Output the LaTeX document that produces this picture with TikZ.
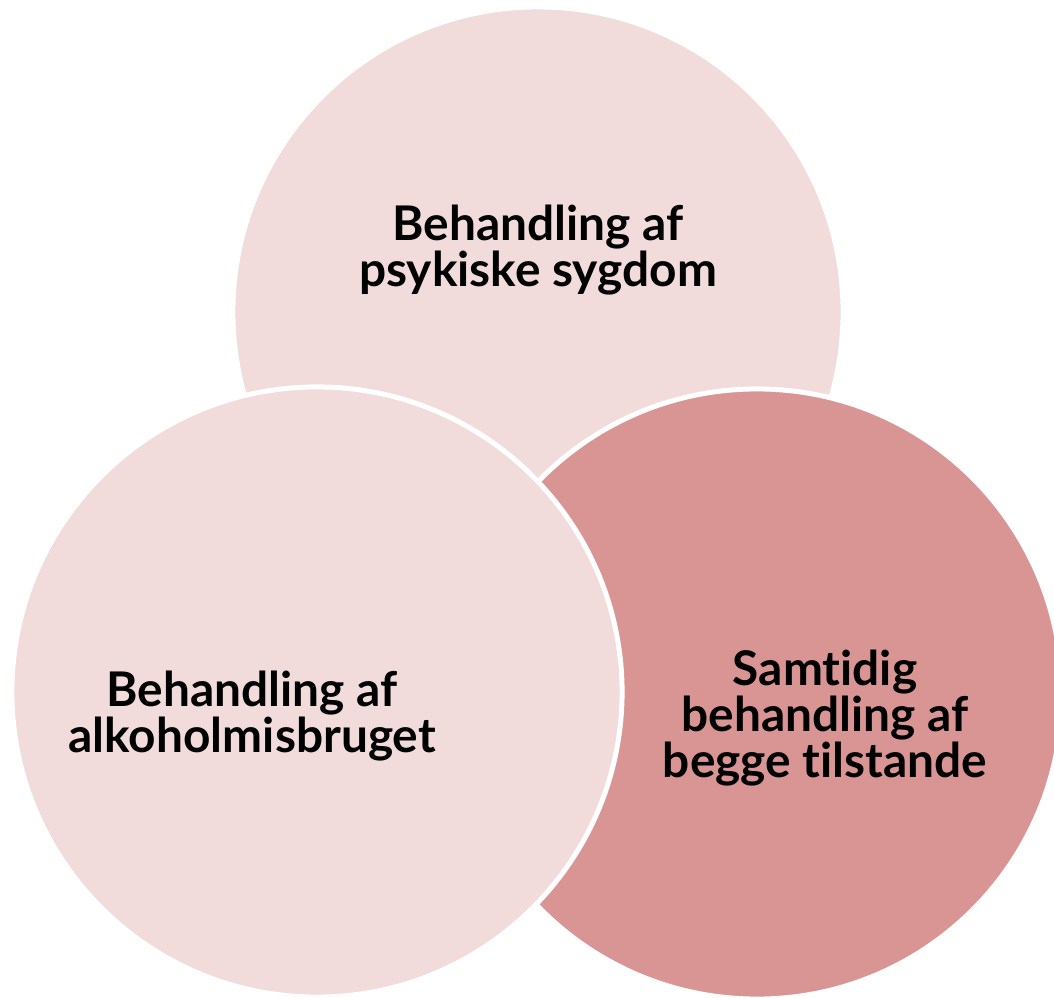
\documentclass[tikz,border=0pt]{standalone}
\usepackage{fontspec}
\setmainfont{Lato}[Ligatures=NoCommon,RawFeature={-liga;-dlig}]
\definecolor{lightpink}{RGB}{241,219,219}
\definecolor{darkpink}{RGB}{217,149,148}
\begin{document}
\begin{tikzpicture}[x=0.025cm,y=-0.025cm,
  bubble/.style={circle,minimum size=15.25cm,draw=white,line width=0.125cm,inner sep=0pt},
  label/.style={align=center,font=\fontsize{34pt}{32.5pt}\selectfont\bfseries,text=black}]
\clip (0,0) rectangle (1054,998);
\useasboundingbox (0,0) rectangle (1054,998);
\node[bubble,fill=lightpink] (top) at (538,312) {};
\node[bubble,fill=darkpink] (right) at (757,694) {};
\node[bubble,fill=lightpink] (left) at (317,692) {};
\node[label] (toptext) at (538,250) {Behandling af\\psykiske sygdom};
\node[label] (lefttext) at (252,716) {Behandling af\\alkoholmisbruget};
\node[label] (righttext) at (825,718) {Samtidig\\behandling af\\begge tilstande};
\end{tikzpicture}
\end{document}
